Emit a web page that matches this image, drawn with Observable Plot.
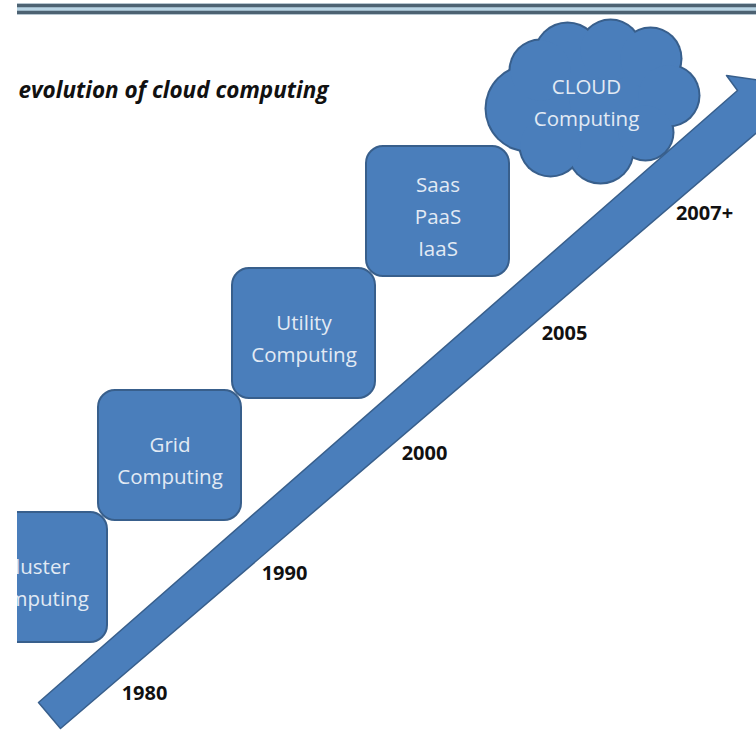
<!DOCTYPE html>
<html><head><meta charset="utf-8">
<script src="https://cdn.jsdelivr.net/npm/d3@7"></script>
<script src="https://cdn.jsdelivr.net/npm/@observablehq/plot@0.6"></script>
<style>html,body{margin:0;padding:0;background:#fff;overflow:hidden}</style>
</head><body><div id="chart"></div>
<script>
// ---- content ----
const title = "evolution of cloud computing";
const eras = ["Cluster\nComputing", "Grid\nComputing", "Utility\nComputing", "Saas\nPaaS\nIaaS"];
const finalEra = "CLOUD\nComputing";
const years = ["1980", "1990", "2000", "2005", "2007+"];

// ---- layout (pixel geometry of the diagram) ----
const W = 756, H = 738;
const BLUE = "#4a7ebb", EDGE = "#385f8c", PALE = "#e2eaf4";
const FONT = "'Open Sans', 'Noto Sans', sans-serif";
const box = {x0: -36, y0: 512, dx: 134, dy: -122, w: 143, h: 130};
const yearPos = {x0: 144, y0: 693, dx: 140, dy: -120};
const cloudCenter = {x: 593, y: 99};
const cloudBumps = [
  [-65, 9, 42], [-53, -29, 30], [-26, -44, 32], [17, -49, 30], [57, -41, 30],
  [75, -4, 30], [52, 33, 27], [7, 51, 32], [-43, 46, 30], [2, 1, 60]
];
const arrowOutline = [
  [38, 702], [737, 90], [726, 75], [781, 83], [787, 130], [775, 116], [60, 728], [38, 702]
];

const boxes = eras.map((label, i) => ({
  label,
  x1: box.x0 + i * box.dx, x2: box.x0 + i * box.dx + box.w,
  y1: box.y0 + i * box.dy, y2: box.y0 + i * box.dy + box.h,
  cx: box.x0 + i * box.dx + box.w / 2, cy: box.y0 + i * box.dy + box.h / 2 + 2
}));
const cloud = cloudBumps.map(([dx, dy, r]) => ({x: cloudCenter.x + dx, y: cloudCenter.y + dy, r}));
const yearLabels = years.map((label, i) => ({label, x: yearPos.x0 + i * yearPos.dx, y: yearPos.y0 + i * yearPos.dy}));
const arrow = arrowOutline.map(([x, y]) => ({x, y}));

const chart = Plot.plot({
  width: W, height: H,
  marginLeft: 17, marginTop: 0, marginRight: 0, marginBottom: 0,
  x: {domain: [0, W], range: [0, W], axis: null},
  y: {domain: [0, H], range: [0, H], axis: null},
  r: {type: "identity"},
  style: {background: "#fff", fontFamily: FONT},
  marks: [
    // top double rule
    Plot.ruleY([8.5], {x1: 17, x2: W, stroke: "#b7d3e3", strokeWidth: 11}),
    Plot.ruleY([5, 12], {x1: 17, x2: W, stroke: "#4d6272", strokeWidth: 3.5}),
    // era boxes
    Plot.rect(boxes, {x1: "x1", x2: "x2", y1: "y1", y2: "y2", rx: 17, fill: BLUE, stroke: EDGE, strokeWidth: 2, clip: true}),
    Plot.text(boxes, {x: "cx", y: "cy", text: "label", fill: PALE, fontSize: 20.5, lineHeight: 1.56, clip: true}),
    // cloud
    Plot.dot(cloud, {x: "x", y: "y", r: d => d.r + 2, fill: EDGE, stroke: null}),
    Plot.dot(cloud, {x: "x", y: "y", r: "r", fill: BLUE, stroke: null}),
    Plot.text([finalEra], {x: cloudCenter.x - 7, y: cloudCenter.y, text: d => d, fill: PALE, fontSize: 20.5, lineHeight: 1.6}),
    // arrow
    Plot.line(arrow, {x: "x", y: "y", fill: BLUE, stroke: EDGE, strokeWidth: 1.5, curve: "linear", clip: true}),
    // year labels
    Plot.text(yearLabels, {x: "x", y: "y", text: "label", fill: "#111", fontSize: 20, fontWeight: "bold"}),
    // title
    Plot.text([title], {x: 18, y: 90, text: d => d, textAnchor: "start", fill: "#111", fontSize: 22.5, fontWeight: "bold", fontStyle: "italic"})
  ]
});
document.getElementById("chart").append(chart);
</script>
</body></html>
